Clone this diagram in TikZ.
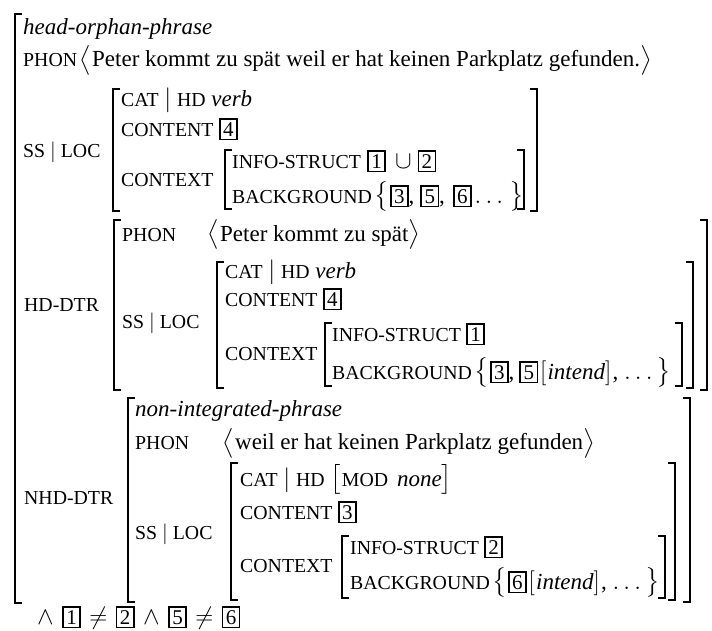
\documentclass[tikz,border=0pt]{standalone}
\usepackage{amsmath}
\usepackage{fontspec}
\setmainfont{Liberation Serif}
\usepackage{tikz}

\newcommand\mainsize{\fontsize{23}{27}\selectfont}
\newcommand\featfont{\fontsize{19.8}{24}\selectfont}
\newcommand\feat[1]{{\featfont #1}}
\newcommand\tagbox[1]{{\setlength\fboxsep{2.5pt}\setlength\fboxrule{1.6pt}\fbox{\fontsize{21}{21}\selectfont #1}}}
% delimiters of a fixed size
\newcommand\dlm[1]{\left#1\vcenter to 29pt{}\right.}
\newcommand\dls[1]{\left#1\vcenter to 24pt{}\right.}

\begin{document}
\begin{tikzpicture}[
    x=1pt,
    y=-1pt,
    every node/.style={inner sep=0pt, anchor=base west, font=\mainsize},
    attr/.style={font=\featfont},
    brk/.style={line width=1.3pt}
  ]
    \useasboundingbox (0,0) rectangle (712,630);
    % outer bracket, open on the right
    \draw[brk] (22,14) -- (15,14) -- (15,603) -- (22,603);
    % inner brackets: left x / right x / top / bottom
    \foreach \xl/\xr/\yt/\yb in {113/537/89/211, 225/524/150/209,
        114/707/220/390, 217/693/262/388, 325/682/323/386,
        128/690/398/602, 231/675/463/600, 342/665/536/598} {
      \draw[brk] (\xl+7,\yt) -- (\xl,\yt) -- (\xl,\yb) -- (\xl+7,\yb);
      \draw[brk] (\xr-7,\yt) -- (\xr,\yt) -- (\xr,\yb) -- (\xr-7,\yb);
    }
    % mother
    \node (msort) at (23,34) {\textit{head-orphan-phrase}};
    \node[attr] (mphon) at (23,66.5) {PHON};
    \node (mphonval) at (79,66.5) {$\dlm\langle$Peter kommt zu spät weil er hat keinen Parkplatz gefunden.$\dlm\rangle$};
    \node[attr] (mssloc) at (23,157) {SS $|$ LOC};
    \node (mcat) at (121,106.5) {\feat{CAT} $|$ \feat{HD} \textit{verb}};
    \node[attr] (mcont) at (121,136) {CONTENT};
    \node (mcontval) at ([xshift=5pt]mcont.base east) {\tagbox{4}};
    \node[attr] (mctx) at (121,186) {CONTEXT};
    \node[attr] (minfo) at (232,168) {INFO-STRUCT};
    \node (minfoval) at ([xshift=6pt]minfo.base east) {\tagbox{1}\hspace{9pt}$\cup$\hspace{6pt}\tagbox{2}};
    \node[attr] (mbg) at (232,203) {BACKGROUND};
    \node (mbgval) at ([xshift=2pt]mbg.base east) {$\dlm\{$\tagbox{3},\hspace{6pt}\tagbox{5},\hspace{8pt}\tagbox{6}\hspace{3pt}$\dots$\hspace{2pt}$\dlm\}$};
    % head daughter
    \node[attr] (hdtr) at (24,311) {HD-DTR};
    \node[attr] (hphon) at (122,241) {PHON};
    \node (hphonval) at (207,241) {$\dlm\langle$Peter kommt zu spät$\dlm\rangle$};
    \node[attr] (hssloc) at (122,328) {SS $|$ LOC};
    \node (hcat) at (225,278) {\feat{CAT} $|$ \feat{HD} \textit{verb}};
    \node[attr] (hcont) at (225,306) {CONTENT};
    \node (hcontval) at ([xshift=5pt]hcont.base east) {\tagbox{4}};
    \node[attr] (hctx) at (225,360) {CONTEXT};
    \node[attr] (hinfo) at (332,341) {INFO-STRUCT};
    \node (hinfoval) at ([xshift=5pt]hinfo.base east) {\tagbox{1}};
    \node[attr] (hbg) at (332,379) {BACKGROUND};
    \node (hbgval) at ([xshift=2pt]hbg.base east) {$\dlm\{$\tagbox{3},\hspace{5pt}\tagbox{5}\hspace{2pt}$\dls[$\textit{intend}$\dls]$, $\dots$$\dlm\}$};
    % non-head daughter
    \node[attr] (ndtr) at (24,504) {NHD-DTR};
    \node (nsort) at (135,416) {\textit{non-integrated-phrase}};
    \node[attr] (nphon) at (135,449.5) {PHON};
    \node (nphonval) at (222,449.5) {$\dlm\langle$weil er hat keinen Parkplatz gefunden$\dlm\rangle$};
    \node[attr] (nssloc) at (135,539) {SS $|$ LOC};
    \node (ncat) at (240,486) {\feat{CAT} $|$ \feat{HD} $\dlm[$\feat{MOD}\hspace{9pt}\textit{none}$\dlm]$};
    \node[attr] (ncont) at (240,519) {CONTENT};
    \node (ncontval) at ([xshift=5pt]ncont.base east) {\tagbox{3}};
    \node[attr] (nctx) at (240,572) {CONTEXT};
    \node[attr] (ninfo) at (350,554) {INFO-STRUCT};
    \node (ninfoval) at ([xshift=5pt]ninfo.base east) {\tagbox{2}};
    \node[attr] (nbg) at (350,589) {BACKGROUND};
    \node (nbgval) at ([xshift=2pt]nbg.base east) {$\dlm\{$\tagbox{6}\hspace{2pt}$\dls[$\textit{intend}$\dls]$, $\dots$$\dlm\}$};
    % relational constraint
    \node (constr) at (37,624) {$\wedge$\hspace{8.5pt}\tagbox{1}\hspace{8.5pt}$\neq$\hspace{8.5pt}\tagbox{2}\hspace{8.5pt}$\wedge$\hspace{8.5pt}\tagbox{5}\hspace{8.5pt}$\neq$\hspace{8.5pt}\tagbox{6}};
  \end{tikzpicture}
\end{document}
